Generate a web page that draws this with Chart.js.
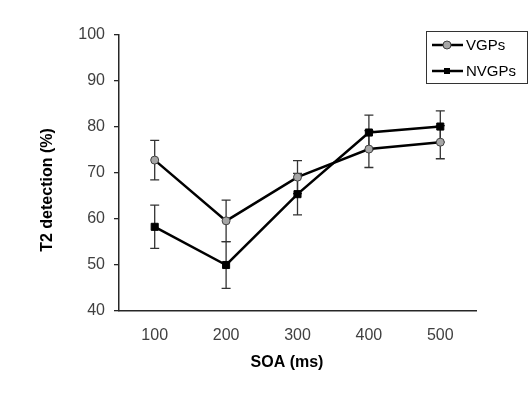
<!DOCTYPE html>
<html>
<head>
<meta charset="utf-8">
<script src="https://cdn.jsdelivr.net/npm/chart.js@4"></script>
<style>
  html, body { margin: 0; padding: 0; background: #fff; }
  #chart { display: block; }
</style>
</head>
<body>
<canvas id="chart" width="531" height="403"></canvas>
<script>
// values
const soaLabels = ['100', '200', '300', '400', '500'];
const vgpValues = [72.8, 59.6, 69.1, 75.2, 76.7];
const vgpErrors = [4.3, 4.5, 3.6, 4.0, 3.6];
const nvgpValues = [58.3, 50.0, 65.4, 78.8, 80.1];
const nvgpErrors = [4.7, 5.1, 4.5, 3.8, 3.4];
const yTicks = [40, 50, 60, 70, 80, 90, 100];

const FONT = '"Liberation Sans", Arial, sans-serif';
const AXIS_COLOR = '#262626';
const TICK_COLOR = '#404040';

const errorsByDataset = [vgpErrors, nvgpErrors];

// error bars, drawn under the lines
const errorBars = {
  id: 'errorBars',
  beforeDatasetsDraw(chart) {
    const ctx = chart.ctx;
    const x = chart.scales.x;
    const y = chart.scales.y;
    ctx.save();
    ctx.strokeStyle = '#333';
    ctx.lineWidth = 1.3;
    chart.data.datasets.forEach((ds, di) => {
      const errs = errorsByDataset[di];
      ds.data.forEach((v, i) => {
        const px = x.getPixelForValue(i);
        const top = y.getPixelForValue(v + errs[i]);
        const bot = y.getPixelForValue(v - errs[i]);
        ctx.beginPath();
        ctx.moveTo(px, top); ctx.lineTo(px, bot);
        ctx.moveTo(px - 4.5, top); ctx.lineTo(px + 4.5, top);
        ctx.moveTo(px - 4.5, bot); ctx.lineTo(px + 4.5, bot);
        ctx.stroke();
      });
    });
    ctx.restore();
  }
};

// axis titles and boxed legend, placed like the original figure
const decorations = {
  id: 'decorations',
  afterDraw(chart) {
    const ctx = chart.ctx;
    ctx.save();
    ctx.fillStyle = '#000';
    ctx.font = 'bold 16px ' + FONT;
    ctx.textAlign = 'center';
    ctx.textBaseline = 'middle';
    ctx.fillText('SOA (ms)', 287, 363);
    ctx.translate(48, 190);
    ctx.rotate(-Math.PI / 2);
    ctx.fillText('T2 detection (%)', 0, 0);
    ctx.restore();

    // legend box
    ctx.save();
    ctx.strokeStyle = '#333';
    ctx.lineWidth = 1;
    ctx.strokeRect(426.5, 31.5, 101, 52);
    ctx.font = '15px ' + FONT;
    ctx.textAlign = 'left';
    ctx.textBaseline = 'middle';
    const rows = [45, 71];
    chart.data.datasets.forEach((ds, di) => {
      const ry = rows[di];
      ctx.strokeStyle = '#000';
      ctx.lineWidth = 2.5;
      ctx.beginPath();
      ctx.moveTo(432, ry); ctx.lineTo(463, ry);
      ctx.stroke();
      ctx.fillStyle = ds.pointBackgroundColor;
      ctx.strokeStyle = ds.pointBorderColor;
      ctx.lineWidth = 1;
      if (ds.pointStyle === 'circle') {
        ctx.beginPath();
        ctx.arc(447, ry, 4, 0, Math.PI * 2);
        ctx.fill(); ctx.stroke();
      } else {
        ctx.fillRect(444, ry - 3, 6, 6);
      }
      ctx.fillStyle = '#000';
      ctx.fillText(ds.label, 466, ry + 0.5);
    });
    ctx.restore();
  }
};

const ctx = document.getElementById('chart').getContext('2d');
new Chart(ctx, {
  type: 'line',
  data: {
    labels: soaLabels,
    datasets: [
      {
        label: 'VGPs',
        data: vgpValues,
        borderColor: '#000',
        borderWidth: 2.5,
        pointStyle: 'circle',
        pointRadius: 4,
        pointBackgroundColor: '#a6a6a6',
        pointBorderColor: '#404040',
        pointBorderWidth: 1,
        tension: 0
      },
      {
        label: 'NVGPs',
        data: nvgpValues,
        borderColor: '#000',
        borderWidth: 2.5,
        pointStyle: 'rect',
        pointRadius: 5,
        pointBackgroundColor: '#000',
        pointBorderColor: '#000',
        pointBorderWidth: 1,
        tension: 0
      }
    ]
  },
  options: {
    responsive: false,
    animation: false,
    layout: { padding: { left: 0, top: 35, right: 55, bottom: 0 } },
    plugins: {
      legend: { display: false },
      tooltip: { enabled: false }
    },
    scales: {
      x: {
        offset: true,
        grid: { display: false, drawTicks: false },
        border: { display: true, color: AXIS_COLOR, width: 1.5 },
        ticks: { color: TICK_COLOR, font: { family: FONT, size: 16 }, padding: 15, maxRotation: 0 },
        afterFit(scale) { scale.height = 92; }
      },
      y: {
        min: yTicks[0],
        max: yTicks[yTicks.length - 1],
        afterBuildTicks(scale) { scale.ticks = yTicks.map(v => ({ value: v })); },
        grid: { drawOnChartArea: false, drawTicks: true, tickLength: 5, color: AXIS_COLOR, lineWidth: 1.3 },
        border: { display: true, color: AXIS_COLOR, width: 1.5 },
        ticks: { color: TICK_COLOR, font: { family: FONT, size: 16 }, padding: 9 },
        afterFit(scale) { scale.width = 119; }
      }
    }
  },
  plugins: [errorBars, decorations]
});
</script>
</body>
</html>
